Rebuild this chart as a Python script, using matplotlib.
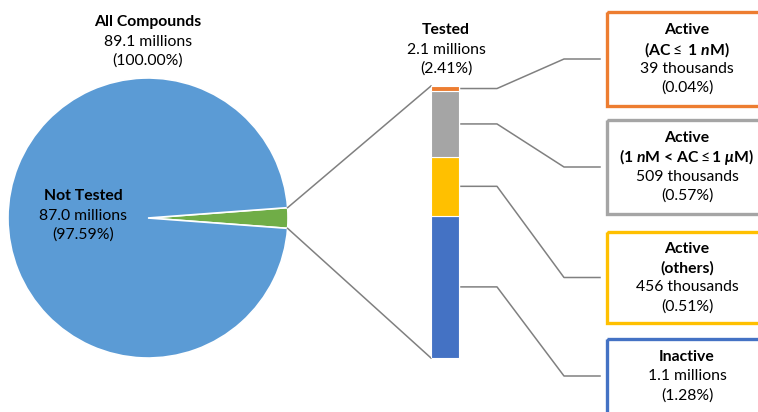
import matplotlib
matplotlib.use("Agg")
import matplotlib.pyplot as plt
from matplotlib.patches import Rectangle
import numpy as np

plt.rcParams['font.family'] = ['Lato', 'DejaVu Sans']
plt.rcParams['mathtext.fontset'] = 'custom'
plt.rcParams['mathtext.rm'] = 'Lato'
plt.rcParams['mathtext.it'] = 'Lato:italic:bold'
plt.rcParams['mathtext.bf'] = 'Lato:bold'

# ---- data ----
pie_labels = ["Not Tested", "Tested"]
pie_values = [87.0, 2.1]            # millions
pie_pcts = ["97.59%", "2.41%"]
pie_colors = ["#5B9BD5", "#70AD47"]

bar_names = ["Inactive", "Active (others)", "Active (1 nM < AC <= 1 uM)", "Active (AC <= 1 nM)"]
bar_values = [1100, 456, 509, 39]   # thousands, bottom to top
bar_colors = ["#4472C4", "#FFC000", "#A5A5A5", "#ED7D31"]

box_lines = [
    ["Inactive", "1.1 millions", "(1.28%)"],
    ["Active", "(others)", "456 thousands", "(0.51%)"],
    ["Active", r"(1 $\mathit{n}$M < AC$\leq$1 $\mu$M)", "509 thousands", "(0.57%)"],
    ["Active", r"(AC$\leq$ 1 $\mathit{n}$M)", "39 thousands", "(0.04%)"],
]
box_bold_lines = [1, 2, 2, 2]

W, H = 758, 412
fig = plt.figure(figsize=(W / 100, H / 100), dpi=100)
ax = fig.add_axes([0, 0, 1, 1])

# ---- pie ----
cx, cy, R = 148, 218, 140
tested_frac = pie_values[1] / sum(pie_values)
half = tested_frac * 360 / 2
ax.pie(pie_values[::-1], colors=pie_colors[::-1], startangle=-half,
       center=(cx, cy), radius=R, counterclock=True,
       wedgeprops=dict(edgecolor="white", linewidth=1.2))
ax.set_xlim(0, W)
ax.set_ylim(H, 0)
ax.set_aspect('equal')
ax.axis('off')

# ---- bar (own axes) ----
bx0, bx1, by0, by1 = 431, 459, 86, 358
axb = fig.add_axes([bx0 / W, 1 - by1 / H, (bx1 - bx0) / W, (by1 - by0) / H])
bottoms = np.concatenate([[0], np.cumsum(bar_values)[:-1]])
axb.bar([0] * len(bar_values), bar_values, bottom=bottoms, width=1.0,
        color=bar_colors, edgecolor="white", linewidth=0.8)
axb.set_xlim(-0.5, 0.5)
axb.set_ylim(0, sum(bar_values))
axb.axis('off')

line_col = "#808080"

# pie to bar connectors
th = np.deg2rad(half)
p_top = (cx + R * np.cos(th), cy - R * np.sin(th))
p_bot = (cx + R * np.cos(th), cy + R * np.sin(th))
ax.plot([p_top[0], bx0], [p_top[1], by0], color=line_col, lw=1.1)
ax.plot([p_bot[0], bx0], [p_bot[1], by1], color=line_col, lw=1.1)

# bar segment -> box connectors
to_main = axb.transData + ax.transData.inverted()
box_centers = [376, 277.5, 167, 59]
box_heights = [75, 91, 94, 94]
box_x0 = 607
for i, v in enumerate(bar_values):
    mid = bottoms[i] + v / 2
    _, ym = to_main.transform((0.5, mid))
    yb = box_centers[i]
    bh = box_heights[i]
    ax.plot([461, 497, 564, 600], [ym, ym, yb, yb], color=line_col, lw=1.1)
    ax.add_patch(Rectangle((box_x0, yb - bh / 2), 165, bh, fill=False,
                           edgecolor=bar_colors[i], linewidth=2.4, clip_on=True))
    lines = box_lines[i]
    n = len(lines)
    y0 = yb - (n - 1) * 19.3 / 2
    for k, t in enumerate(lines):
        ax.text(687, y0 + k * 19.3, t, ha='center', va='center', fontsize=11.3,
                fontweight='bold' if k < box_bold_lines[i] else 'normal', color="#000000")

# pie/bar labels
def block(x, y, lines, fw0='bold'):
    for k, t in enumerate(lines):
        ax.text(x, y + k * 19.5, t, ha='center', va='center', fontsize=11.3,
                fontweight=fw0 if k == 0 else 'normal', color="#000000")

block(148, 22, ["All Compounds", "89.1 millions", "(100.00%)"])
block(83, 196, ["Not Tested", "87.0 millions", "(97.59%)"])
block(446, 30, ["Tested", "2.1 millions", "(2.41%)"])

fig.savefig("out.png", dpi=100)
